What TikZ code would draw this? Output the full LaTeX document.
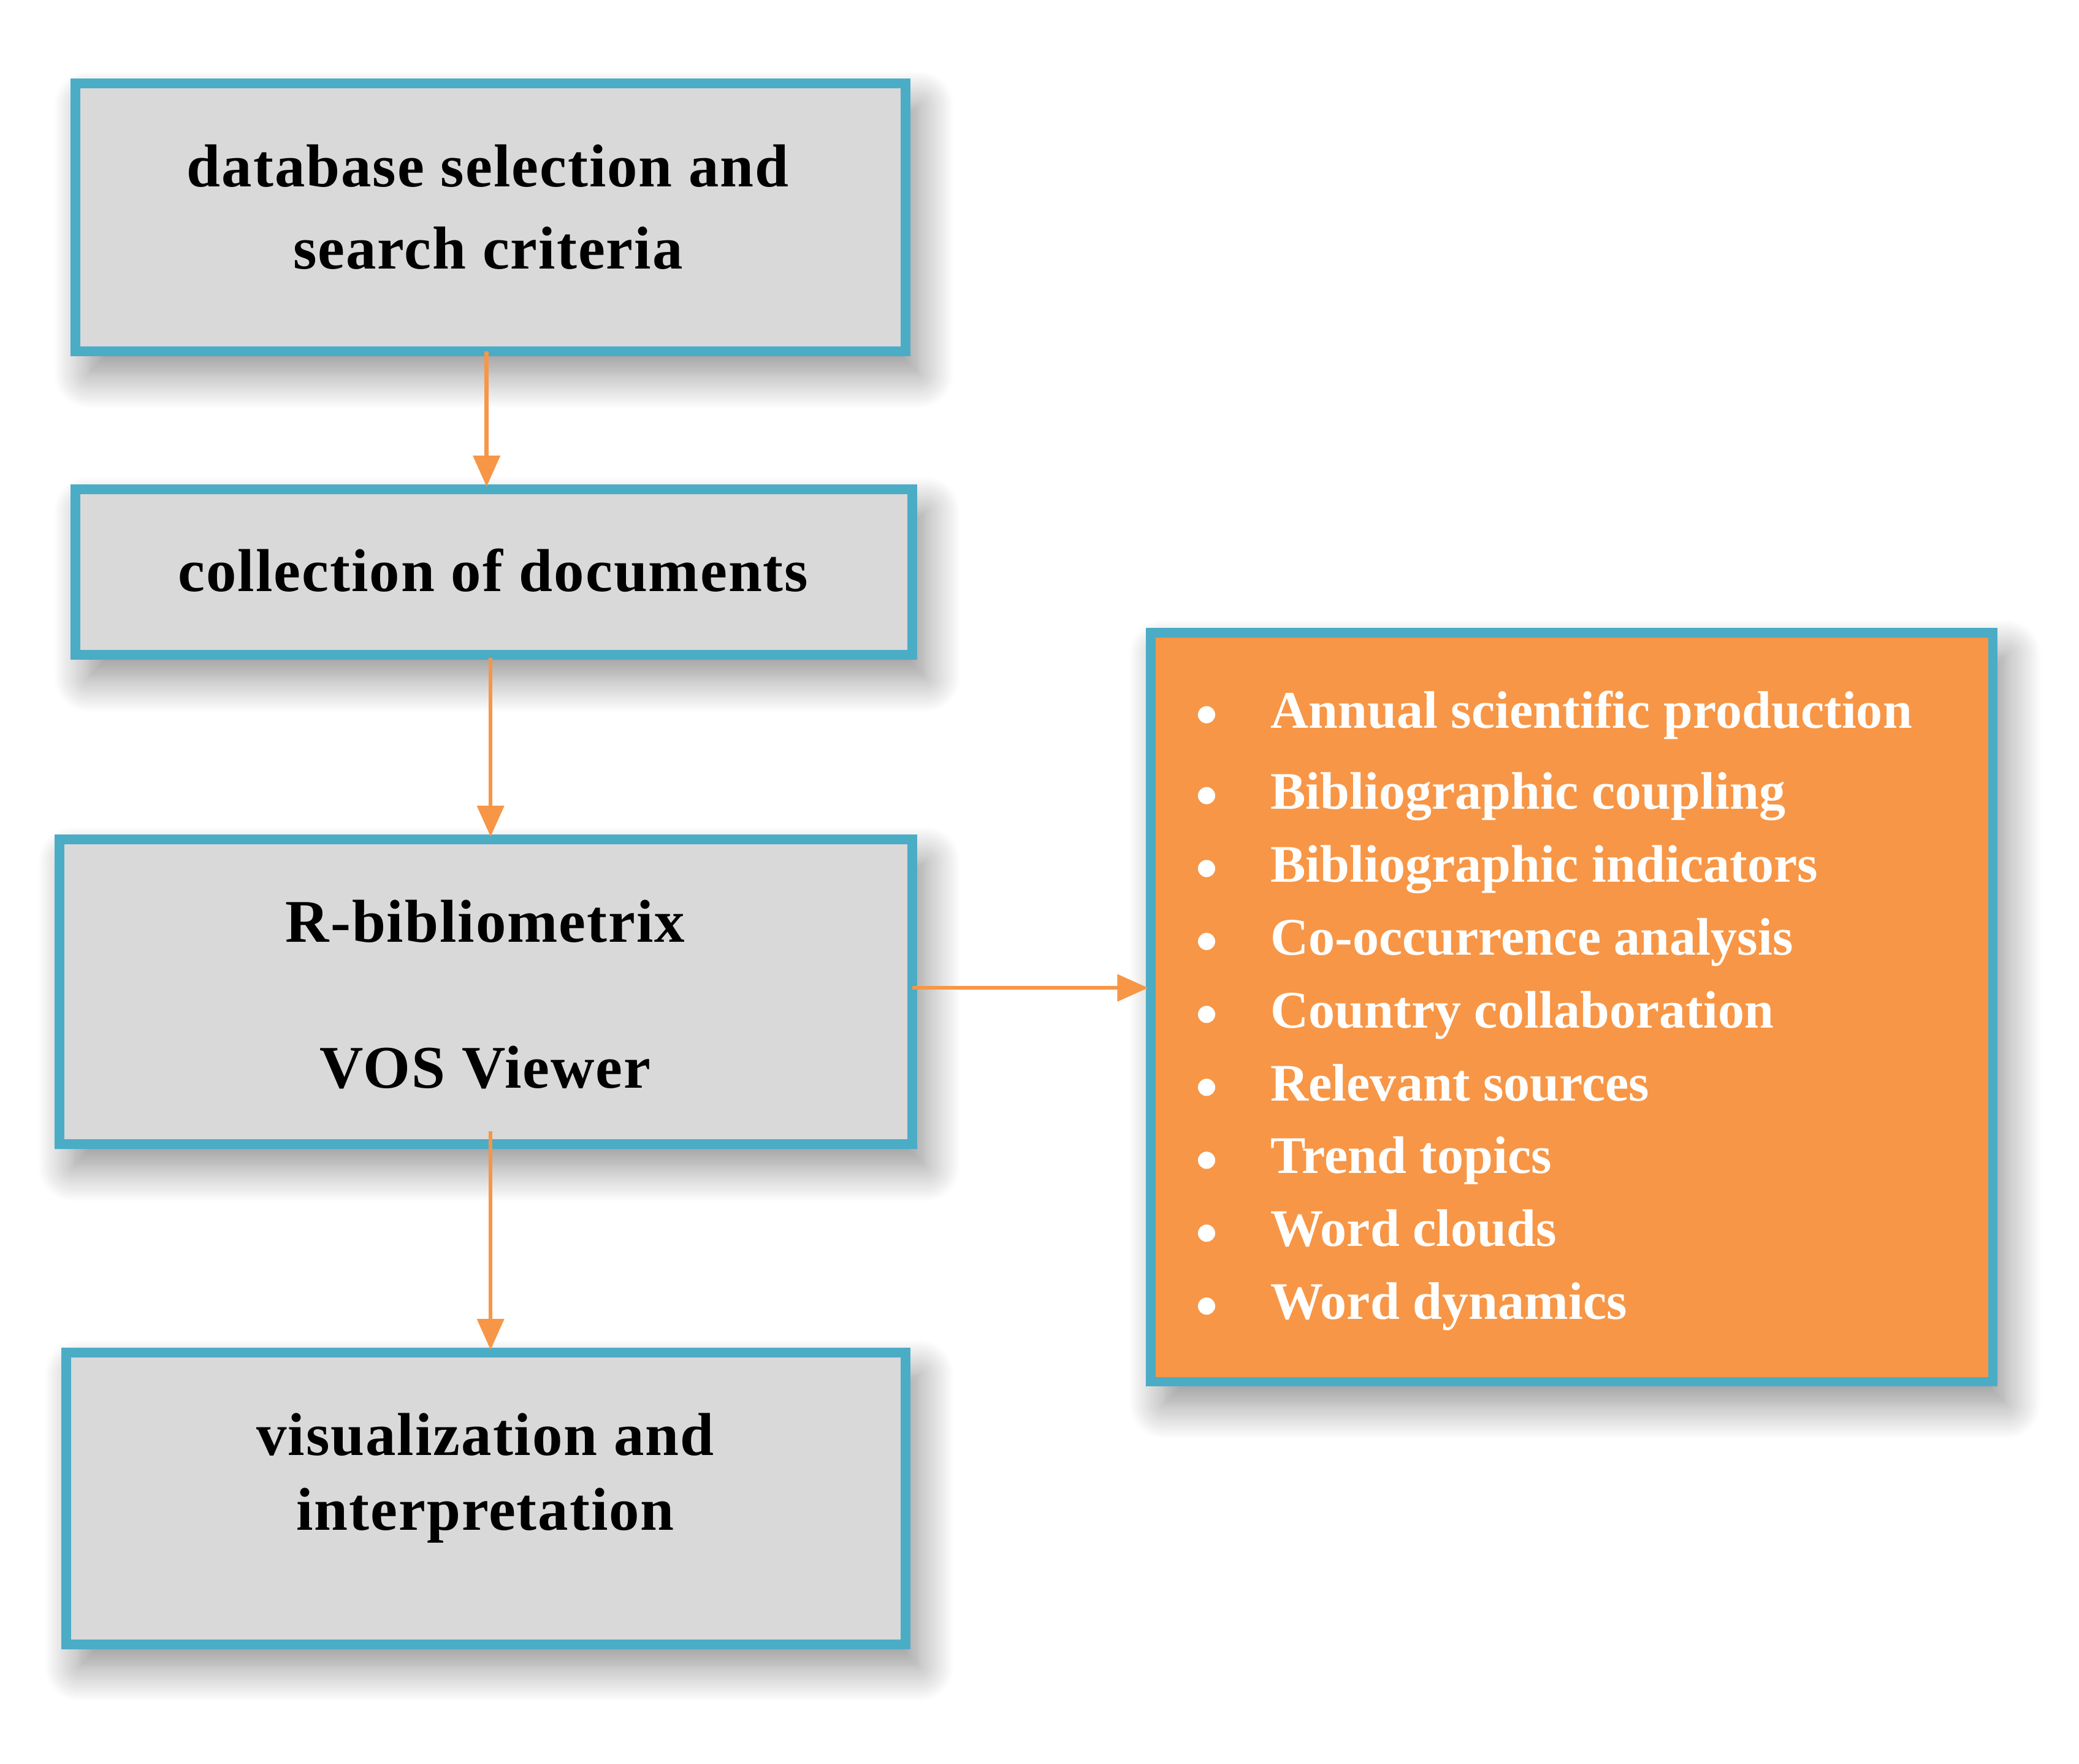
\documentclass[tikz,border=0pt]{standalone}
\usepackage{fontspec}
\setmainfont{Liberation Serif}
\newfontfamily\spaced{Liberation Serif}[LetterSpace=2]
\usetikzlibrary{shadows.blur,arrows.meta}
\definecolor{teal}{HTML}{4BACC6}
\definecolor{gr}{HTML}{D9D9D9}
\definecolor{org}{HTML}{F79646}
\begin{document}
\begin{tikzpicture}[x=0.3mm,y=-0.3mm,
  box/.style={draw=teal,line width=2.2mm,fill=gr,blur shadow={shadow xshift=3mm,shadow yshift=-5mm,shadow blur radius=8mm,shadow blur steps=20,shadow opacity=45}},
  obox/.style={box,fill=org},
  t/.style={font=\fontsize{39}{47}\selectfont\spaced\bfseries,anchor=center},
  it/.style={font=\fontsize{34}{40}\selectfont\bfseries,text=white,anchor=base west},
  arr/.style={draw=org,line width=0.9mm,-{Triangle[length=7mm,width=6mm]}}]
\useasboundingbox (0,0) rectangle (1568,1330);
\path[box] (57,63) rectangle (683,265);
\path[box] (57,369) rectangle (688,494);
\path[box] (45,633) rectangle (688,863);
\path[box] (50,1020) rectangle (683,1240);
\path[obox] (868,477) rectangle (1503,1042);
\node[t] (a1) at (368,125) {database selection and};
\node[t] (a2) at (368,187) {search criteria};
\node[t] (b) at (372,430) {collection of documents};
\node[t] (c1) at (366,695) {R-bibliometrix};
\node[t] (c2) at (366,805) {VOS Viewer};
\node[t] (d1) at (366,1082) {visualization and};
\node[t] (d2) at (366,1143) {interpretation};
\coordinate (p1) at (367,265); \coordinate (q1) at (367,367);
\coordinate (p2) at (370,496); \coordinate (q2) at (370,631);
\coordinate (p3) at (370,853); \coordinate (q3) at (370,1018);
\coordinate (p4) at (688,745); \coordinate (q4) at (866,745);
\draw[arr] (p1) -- (q1);
\draw[arr] (p2) -- (q2);
\draw[arr] (p3) -- (q3);
\draw[arr] (p4) -- (q4);
\foreach \y/\s [count=\i] in {537/Annual scientific production,598/Bibliographic coupling,653/Bibliographic indicators,708/Co-occurrence analysis,763/Country collaboration,818/Relevant sources,873/Trend topics,928/Word clouds,983/Word dynamics}{
  \fill[white] (910,\y+2) circle (6.5);
  \node[it,inner sep=0pt] (l\i) at (958,\y+12) {\s};
}
\end{tikzpicture}
\end{document}
